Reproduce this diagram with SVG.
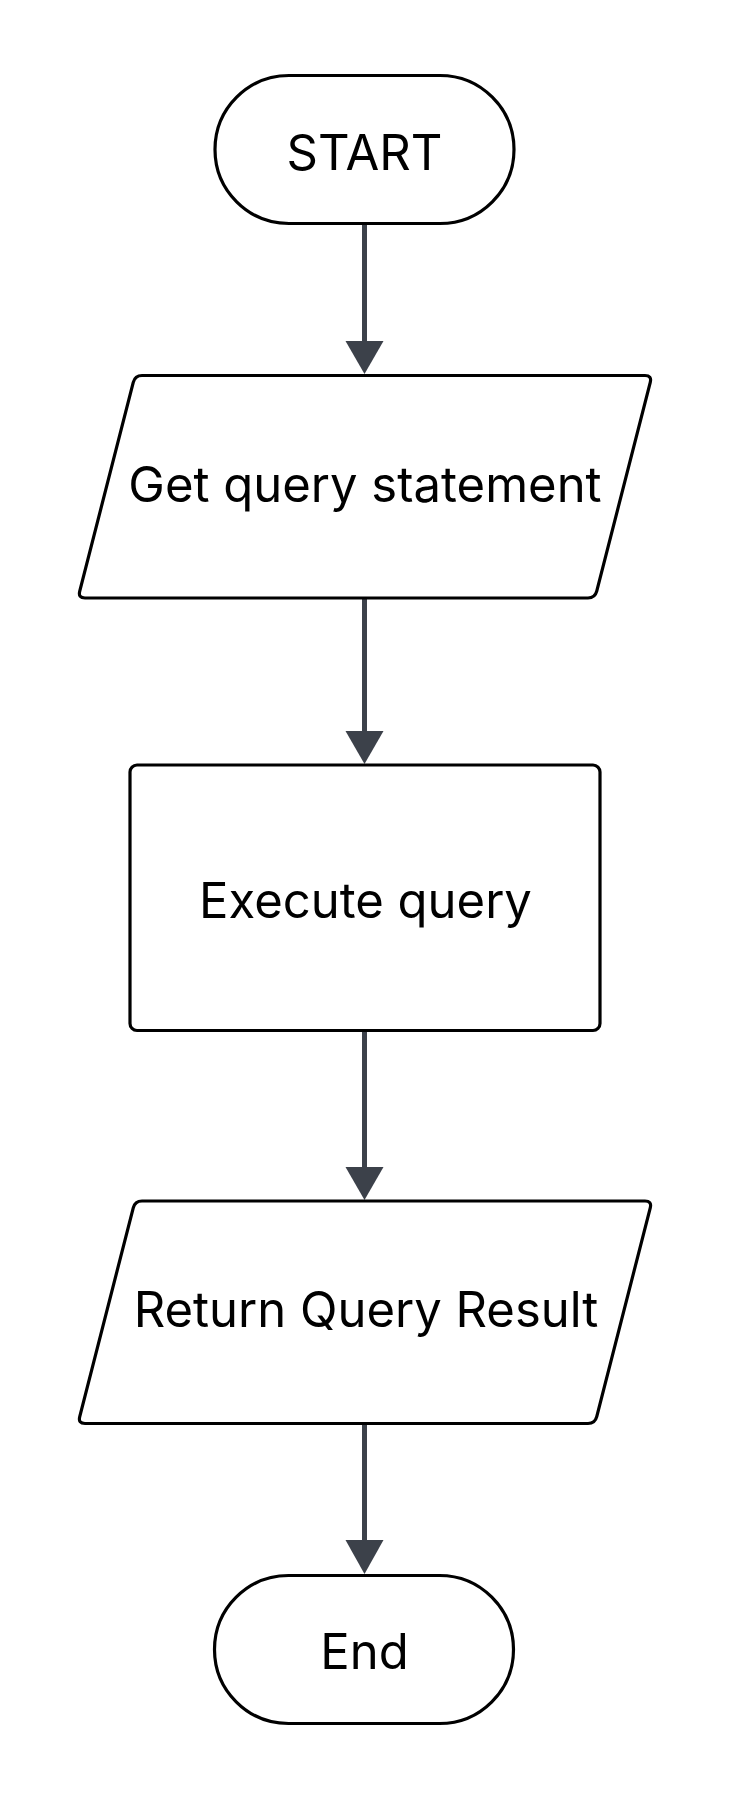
<svg xmlns="http://www.w3.org/2000/svg" width="729" height="1800" viewBox="0 0 729 1800">
<style>
.node{fill:#ffffff;stroke:#000000;stroke-width:3.2;stroke-linejoin:round}
.lbl{font-family:Inter,"Noto Sans","Liberation Sans",sans-serif;font-size:49px;fill:#000000;text-anchor:middle}
.edge{stroke:#3c414a;stroke-width:5;fill:none}
.head{fill:#3c414a;stroke:none}
</style>
<rect width="729" height="1800" fill="#ffffff"/>
<g id="connectors">
<line class="edge" x1="364.5" y1="224" x2="364.5" y2="342"/>
<polygon class="head" points="345.5,341 383.5,341 364.5,374"/>
<line class="edge" x1="364.5" y1="599" x2="364.5" y2="732"/>
<polygon class="head" points="345.5,731 383.5,731 364.5,764"/>
<line class="edge" x1="364.5" y1="1032" x2="364.5" y2="1168"/>
<polygon class="head" points="345.5,1167 383.5,1167 364.5,1200"/>
<line class="edge" x1="364.5" y1="1425" x2="364.5" y2="1541"/>
<polygon class="head" points="345.5,1540 383.5,1540 364.5,1574"/>
</g>
<g id="start">
<rect class="node" x="215" y="75.5" width="299" height="148" rx="74" ry="74"/>
<text class="lbl" x="364.5" y="169.5">START</text>
</g>
<g id="get-query">
<path class="node" d="M142,375.5 L645,375.5 Q652,375.5 650.26,382.28 L596.74,591.22 Q595,598 588,598 L85,598 Q78,598 79.74,591.22 L133.26,382.28 Q135,375.5 142,375.5 Z"/>
<text class="lbl" x="365" y="502">Get query statement</text>
</g>
<g id="execute">
<rect class="node" x="130" y="765" width="470" height="265.5" rx="7" ry="7"/>
<text class="lbl" x="365.5" y="918">Execute query</text>
</g>
<g id="return">
<path class="node" d="M142,1201 L645,1201 Q652,1201 650.26,1207.78 L596.74,1416.72 Q595,1423.5 588,1423.5 L85,1423.5 Q78,1423.5 79.74,1416.72 L133.26,1207.78 Q135,1201 142,1201 Z"/>
<text class="lbl" x="366" y="1327">Return Query Result</text>
</g>
<g id="end">
<rect class="node" x="214.5" y="1575.5" width="299" height="148" rx="74" ry="74"/>
<text class="lbl" x="364.5" y="1669">End</text>
</g>
</svg>
